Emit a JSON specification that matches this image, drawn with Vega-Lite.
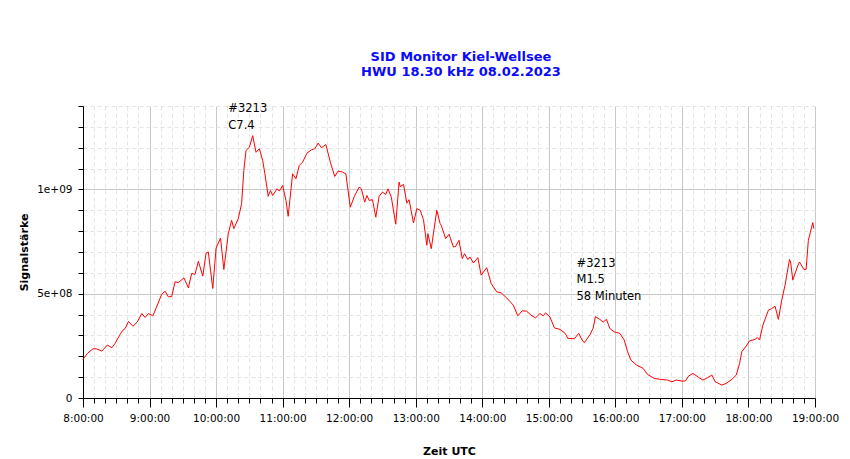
{
  "$schema": "https://vega.github.io/schema/vega-lite/v6.json",
  "autosize": "none",
  "width": 732,
  "height": 292,
  "padding": {"left": 83, "top": 106, "right": 35, "bottom": 61},
  "background": "white",
  "title": {
    "text": ["SID Monitor Kiel-Wellsee", "HWU 18.30 kHz 08.02.2023"],
    "font": "DejaVu Sans",
    "fontSize": 13,
    "fontWeight": "bold",
    "color": "#0a0aff",
    "anchor": "middle",
    "dx": 12,
    "offset": 22,
    "lineHeight": 15
  },
  "config": {
    "view": {"stroke": null},
    "axis": {
      "labelFont": "DejaVu Sans",
      "labelFontSize": 10.5,
      "labelColor": "black",
      "titleFont": "DejaVu Sans",
      "titleFontSize": 11,
      "titleFontWeight": "bold",
      "titleColor": "black",
      "domainColor": "black",
      "tickColor": "black",
      "labelOverlap": false,
      "labelBound": false,
      "labelFlush": false
    }
  },
  "datasets": {
    "signal": [
      {"t": "08:00", "v": 1.85e8}, {"t": "08:04", "v": 2.14e8}, {"t": "08:09", "v": 2.36e8},
      {"t": "08:12", "v": 2.36e8}, {"t": "08:17", "v": 2.25e8}, {"t": "08:22", "v": 2.54e8},
      {"t": "08:26", "v": 2.41e8}, {"t": "08:29", "v": 2.62e8}, {"t": "08:33", "v": 3.01e8},
      {"t": "08:36", "v": 3.25e8}, {"t": "08:38", "v": 3.33e8}, {"t": "08:41", "v": 3.67e8},
      {"t": "08:45", "v": 3.44e8}, {"t": "08:49", "v": 3.65e8}, {"t": "08:53", "v": 4.05e8},
      {"t": "08:56", "v": 3.86e8}, {"t": "08:59", "v": 4.05e8}, {"t": "09:03", "v": 3.94e8},
      {"t": "09:07", "v": 4.45e8}, {"t": "09:11", "v": 4.98e8}, {"t": "09:14", "v": 5.12e8},
      {"t": "09:17", "v": 4.85e8}, {"t": "09:20", "v": 4.87e8}, {"t": "09:23", "v": 5.57e8},
      {"t": "09:26", "v": 5.53e8}, {"t": "09:31", "v": 5.76e8}, {"t": "09:35", "v": 5.28e8},
      {"t": "09:38", "v": 5.97e8}, {"t": "09:41", "v": 5.93e8}, {"t": "09:44", "v": 6.56e8},
      {"t": "09:48", "v": 5.84e8}, {"t": "09:51", "v": 6.95e8}, {"t": "09:53", "v": 7.0e8},
      {"t": "09:57", "v": 5.25e8}, {"t": "10:00", "v": 7.19e8}, {"t": "10:04", "v": 7.67e8},
      {"t": "10:07", "v": 6.16e8}, {"t": "10:11", "v": 7.88e8}, {"t": "10:14", "v": 8.52e8},
      {"t": "10:16", "v": 8.12e8}, {"t": "10:20", "v": 8.6e8}, {"t": "10:23", "v": 9.32e8},
      {"t": "10:25", "v": 10.91e8}, {"t": "10:27", "v": 11.87e8}, {"t": "10:30", "v": 12.02e8},
      {"t": "10:33", "v": 12.58e8}, {"t": "10:36", "v": 11.78e8}, {"t": "10:39", "v": 11.95e8},
      {"t": "10:42", "v": 11.39e8}, {"t": "10:44", "v": 10.75e8}, {"t": "10:47", "v": 9.67e8},
      {"t": "10:49", "v": 9.95e8}, {"t": "10:51", "v": 9.71e8}, {"t": "10:55", "v": 10.03e8},
      {"t": "10:57", "v": 9.92e8}, {"t": "11:00", "v": 10.19e8}, {"t": "11:03", "v": 9.47e8},
      {"t": "11:05", "v": 8.71e8}, {"t": "11:09", "v": 10.75e8}, {"t": "11:12", "v": 10.51e8},
      {"t": "11:15", "v": 11.15e8}, {"t": "11:18", "v": 11.31e8}, {"t": "11:22", "v": 11.74e8},
      {"t": "11:26", "v": 11.9e8}, {"t": "11:29", "v": 11.95e8}, {"t": "11:32", "v": 12.22e8},
      {"t": "11:35", "v": 12.0e8}, {"t": "11:39", "v": 12.15e8}, {"t": "11:43", "v": 11.31e8},
      {"t": "11:47", "v": 10.62e8}, {"t": "11:50", "v": 10.88e8}, {"t": "11:54", "v": 10.83e8},
      {"t": "11:57", "v": 10.75e8}, {"t": "12:01", "v": 9.15e8}, {"t": "12:05", "v": 9.71e8},
      {"t": "12:09", "v": 10.11e8}, {"t": "12:11", "v": 10.03e8}, {"t": "12:14", "v": 9.39e8},
      {"t": "12:16", "v": 9.71e8}, {"t": "12:18", "v": 9.47e8}, {"t": "12:21", "v": 9.51e8},
      {"t": "12:24", "v": 8.67e8}, {"t": "12:27", "v": 9.67e8}, {"t": "12:30", "v": 9.87e8},
      {"t": "12:33", "v": 9.76e8}, {"t": "12:35", "v": 10.03e8}, {"t": "12:38", "v": 9.63e8},
      {"t": "12:42", "v": 8.33e8}, {"t": "12:45", "v": 10.35e8}, {"t": "12:46", "v": 10.14e8},
      {"t": "12:49", "v": 10.24e8}, {"t": "12:52", "v": 9.34e8}, {"t": "12:54", "v": 9.51e8},
      {"t": "12:58", "v": 8.39e8}, {"t": "13:01", "v": 9.08e8}, {"t": "13:04", "v": 9.0e8},
      {"t": "13:07", "v": 8.55e8}, {"t": "13:10", "v": 7.32e8}, {"t": "13:11", "v": 7.88e8},
      {"t": "13:14", "v": 7.16e8}, {"t": "13:19", "v": 9.0e8}, {"t": "13:22", "v": 8.36e8},
      {"t": "13:23", "v": 8.28e8}, {"t": "13:27", "v": 7.64e8}, {"t": "13:30", "v": 7.85e8},
      {"t": "13:34", "v": 7.24e8}, {"t": "13:36", "v": 7.27e8}, {"t": "13:39", "v": 7.56e8},
      {"t": "13:42", "v": 6.68e8}, {"t": "13:44", "v": 6.92e8}, {"t": "13:47", "v": 6.64e8},
      {"t": "13:49", "v": 6.76e8}, {"t": "13:52", "v": 6.47e8}, {"t": "13:56", "v": 6.73e8},
      {"t": "13:59", "v": 5.89e8}, {"t": "14:04", "v": 6.25e8}, {"t": "14:08", "v": 5.49e8},
      {"t": "14:13", "v": 5.09e8}, {"t": "14:17", "v": 5.04e8}, {"t": "14:22", "v": 4.8e8},
      {"t": "14:28", "v": 4.45e8}, {"t": "14:32", "v": 3.94e8}, {"t": "14:36", "v": 4.18e8},
      {"t": "14:40", "v": 4.16e8}, {"t": "14:44", "v": 3.97e8}, {"t": "14:48", "v": 3.84e8},
      {"t": "14:52", "v": 4.05e8}, {"t": "14:55", "v": 3.94e8}, {"t": "14:57", "v": 4.08e8},
      {"t": "15:01", "v": 3.89e8}, {"t": "15:05", "v": 3.36e8}, {"t": "15:10", "v": 3.29e8},
      {"t": "15:15", "v": 3.09e8}, {"t": "15:17", "v": 2.86e8}, {"t": "15:23", "v": 2.84e8},
      {"t": "15:27", "v": 3.1e8}, {"t": "15:30", "v": 2.78e8}, {"t": "15:32", "v": 2.65e8},
      {"t": "15:37", "v": 3.03e8}, {"t": "15:40", "v": 3.35e8}, {"t": "15:42", "v": 3.9e8},
      {"t": "15:46", "v": 3.77e8}, {"t": "15:49", "v": 3.64e8}, {"t": "15:52", "v": 3.77e8},
      {"t": "15:55", "v": 3.33e8}, {"t": "15:59", "v": 3.17e8}, {"t": "16:04", "v": 3.1e8},
      {"t": "16:08", "v": 2.78e8}, {"t": "16:11", "v": 2.22e8}, {"t": "16:14", "v": 1.82e8},
      {"t": "16:19", "v": 1.58e8}, {"t": "16:25", "v": 1.42e8}, {"t": "16:29", "v": 1.13e8},
      {"t": "16:35", "v": 0.94e8}, {"t": "16:41", "v": 0.89e8}, {"t": "16:47", "v": 0.86e8},
      {"t": "16:51", "v": 0.78e8}, {"t": "16:55", "v": 0.86e8}, {"t": "17:00", "v": 0.81e8},
      {"t": "17:03", "v": 0.81e8}, {"t": "17:06", "v": 1.05e8}, {"t": "17:10", "v": 1.18e8},
      {"t": "17:15", "v": 0.99e8}, {"t": "17:19", "v": 0.86e8}, {"t": "17:23", "v": 0.97e8},
      {"t": "17:27", "v": 1.1e8}, {"t": "17:30", "v": 0.78e8}, {"t": "17:36", "v": 0.62e8},
      {"t": "17:40", "v": 0.7e8}, {"t": "17:45", "v": 0.89e8}, {"t": "17:49", "v": 1.1e8},
      {"t": "17:52", "v": 1.66e8}, {"t": "17:54", "v": 2.22e8}, {"t": "17:58", "v": 2.49e8},
      {"t": "18:01", "v": 2.74e8}, {"t": "18:06", "v": 2.81e8}, {"t": "18:08", "v": 2.9e8},
      {"t": "18:10", "v": 2.78e8}, {"t": "18:13", "v": 3.49e8}, {"t": "18:18", "v": 4.21e8},
      {"t": "18:21", "v": 4.29e8}, {"t": "18:24", "v": 4.4e8}, {"t": "18:27", "v": 3.77e8},
      {"t": "18:30", "v": 4.69e8}, {"t": "18:33", "v": 5.41e8}, {"t": "18:37", "v": 6.64e8},
      {"t": "18:38", "v": 6.52e8}, {"t": "18:40", "v": 5.65e8}, {"t": "18:44", "v": 6.28e8},
      {"t": "18:46", "v": 6.52e8}, {"t": "18:50", "v": 6.16e8}, {"t": "18:52", "v": 6.17e8},
      {"t": "18:54", "v": 7.56e8}, {"t": "18:58", "v": 8.41e8}, {"t": "18:59", "v": 8.12e8}
    ],
    "notes": [
      {"t": "10:11", "v": 13.7e8, "label": "#3213"},
      {"t": "10:11", "v": 12.88e8, "label": "C7.4"},
      {"t": "15:25", "v": 6.3e8, "label": "#3213"},
      {"t": "15:25", "v": 5.5e8, "label": "M1.5"},
      {"t": "15:25", "v": 4.7e8, "label": "58 Minuten"}
    ]
  },
  "encoding": {
    "x": {
      "field": "t",
      "type": "temporal",
      "scale": {
        "type": "utc",
        "domain": [-2208960000000, -2208920400000]
      },
      "axis": {
        "title": "Zeit UTC",
        "titlePadding": 22,
        "values": [
          -2208960000000, -2208959400000, -2208958800000, -2208958200000, -2208957600000, -2208957000000,
          -2208956400000, -2208955800000, -2208955200000, -2208954600000, -2208954000000, -2208953400000,
          -2208952800000, -2208952200000, -2208951600000, -2208951000000, -2208950400000, -2208949800000,
          -2208949200000, -2208948600000, -2208948000000, -2208947400000, -2208946800000, -2208946200000,
          -2208945600000, -2208945000000, -2208944400000, -2208943800000, -2208943200000, -2208942600000,
          -2208942000000, -2208941400000, -2208940800000, -2208940200000, -2208939600000, -2208939000000,
          -2208938400000, -2208937800000, -2208937200000, -2208936600000, -2208936000000, -2208935400000,
          -2208934800000, -2208934200000, -2208933600000, -2208933000000, -2208932400000, -2208931800000,
          -2208931200000, -2208930600000, -2208930000000, -2208929400000, -2208928800000, -2208928200000,
          -2208927600000, -2208927000000, -2208926400000, -2208925800000, -2208925200000, -2208924600000,
          -2208924000000, -2208923400000, -2208922800000, -2208922200000, -2208921600000, -2208921000000,
          -2208920400000
        ],
        "labelExpr": "utcminutes(datum.value) === 0 ? utcFormat(datum.value, '%-H:%M:%S') : ''",
        "labelPadding": 6,
        "tickSize": {"condition": {"test": "utcminutes(datum.value) === 0", "value": 9}, "value": 5},
        "gridColor": {"condition": {"test": "utcminutes(datum.value) === 0", "value": "#c8c8c8"}, "value": "#e4e4e4"},
        "gridDash": {"condition": {"test": "utcminutes(datum.value) === 0", "value": []}, "value": [4, 3]}
      }
    },
    "y": {
      "field": "v",
      "type": "quantitative",
      "scale": {"domain": [0, 1400000000], "nice": false},
      "axis": {
        "title": "Signalstärke",
        "titlePadding": 7,
        "values": [0, 100000000, 200000000, 300000000, 400000000, 500000000, 600000000, 700000000, 800000000, 900000000, 1000000000, 1100000000, 1200000000, 1300000000, 1400000000],
        "labelExpr": "datum.value === 0 ? '0' : datum.value === 500000000 ? '5e+08' : datum.value === 1000000000 ? '1e+09' : ''",
        "labelPadding": 6,
        "tickSize": 5,
        "gridColor": {"condition": {"test": "datum.value % 500000000 === 0", "value": "#c8c8c8"}, "value": "#e4e4e4"},
        "gridDash": {"condition": {"test": "datum.value % 500000000 === 0", "value": []}, "value": [4, 3]}
      }
    }
  },
  "layer": [
    {
      "data": {"name": "signal", "format": {"parse": {"t": "utc:'%H:%M'"}}},
      "mark": {"type": "line", "color": "#ff0000", "strokeWidth": 1}
    },
    {
      "data": {"name": "notes", "format": {"parse": {"t": "utc:'%H:%M'"}}},
      "mark": {"type": "text", "align": "left", "baseline": "alphabetic", "font": "DejaVu Sans", "fontSize": 11.5, "color": "black"},
      "encoding": {"text": {"field": "label"}}
    }
  ]
}
